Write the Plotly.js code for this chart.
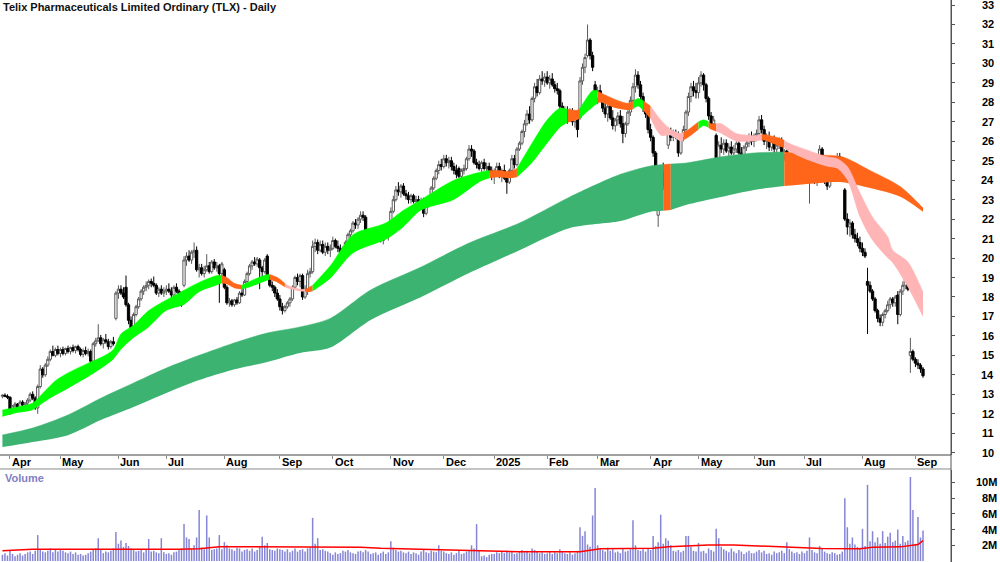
<!DOCTYPE html>
<html><head><meta charset="utf-8">
<script src="https://cdn.plot.ly/plotly-3.0.1.min.js"></script>
<style>html,body{margin:0;padding:0;background:#fff}#chart{width:1000px;height:562px}</style>
</head><body><div id="chart"></div>
<script>
// ---------- DATA (trading-day index 0 = 26 Mar 2024) ----------
const opens = [
12.9,12.95,12.9,12.85,12.1,12.4,12.5,12.3,12.6,12.45,
12.55,12.7,13.0,12.8,12.3,13.4,14.3,14.0,14.5,14.8,
15.2,15.0,15.3,15.1,15.3,15.1,15.35,15.2,15.4,15.25,
15.45,15.3,15.05,15.25,15.1,15.2,14.7,15.6,15.75,15.9,
15.6,15.8,15.7,15.45,15.7,16.9,18.2,18.4,18.2,18.5,
17.6,16.8,16.4,17.1,17.5,17.9,18.3,18.5,18.6,18.8,
18.7,18.6,18.2,18.4,18.2,18.3,18.4,18.3,18.1,18.5,
18.3,18.2,18.6,19.9,20.1,19.9,20.3,20.4,19.4,19.5,
19.2,19.4,19.6,19.3,19.8,19.5,19.6,19.2,19.4,18.5,
17.7,17.8,17.6,17.85,17.7,18.2,18.1,18.8,19.2,19.6,
19.8,19.7,19.9,19.5,19.3,20.1,19.0,18.6,18.5,18.2,
17.9,17.5,17.3,17.5,17.7,17.9,18.5,19.0,18.8,19.1,
18.0,18.4,19.2,19.3,20.6,20.8,20.4,20.7,20.3,20.6,
20.4,20.5,20.9,20.6,20.5,20.3,20.5,20.8,21.2,21.4,
21.8,21.7,22.0,22.2,22.1,21.4,21.1,21.0,21.4,21.2,
21.3,20.9,21.2,21.1,21.4,22.4,23.0,23.5,23.4,23.7,
23.3,23.2,23.0,23.2,22.9,23.0,22.8,23.0,22.3,22.7,
23.1,23.6,24.1,24.5,24.8,24.7,25.1,24.9,25.0,24.7,
24.5,24.6,24.2,24.5,24.6,25.1,25.6,25.5,24.9,24.8,
24.6,24.9,24.6,24.7,24.5,24.2,24.4,24.7,24.2,24.5,
24.1,23.9,24.5,25.1,24.8,25.6,25.9,26.5,26.9,27.4,
27.1,28.2,28.8,28.5,29.2,29.1,29.3,29.0,29.2,28.9,
28.7,28.6,27.8,27.3,27.6,27.2,27.5,27.0,27.3,27.2,
29.1,29.8,30.4,31.2,30.4,28.9,28.2,28.6,28.1,27.7,
27.4,27.8,27.2,26.8,27.1,27.3,26.9,26.4,26.9,27.5,
28.1,28.8,29.4,28.9,28.3,27.7,27.4,26.6,26.2,25.4,
22.2,23.0,24.4,24.0,25.8,26.5,26.2,26.4,26.3,25.4,
26.2,26.6,27.5,28.3,28.8,28.6,28.5,29.0,29.4,28.9,
28.2,27.3,26.9,26.3,24.7,25.8,25.6,25.9,25.5,25.7,
25.4,25.6,25.9,25.4,25.2,25.7,25.9,26.2,26.0,26.3,
26.4,27.1,26.6,26.0,26.2,25.7,26.0,25.6,25.8,26.0,
25.3,25.5,24.8,24.5,24.7,24.4,24.6,24.3,24.5,24.3,
24.1,24.3,24.2,24.0,24.1,25.6,24.6,24.0,23.7,24.1,
24.6,25.1,25.2,25.0,23.5,22.0,21.6,21.8,21.2,21.0,
20.8,20.5,20.3,18.8,18.6,18.3,17.9,17.3,16.9,16.7,
17.1,17.3,17.6,17.9,17.7,18.1,17.1,18.3,18.6,18.9,
15.0,15.2,14.8,14.6,14.5,14.3];
const highs = [
13.0,13.05,13.0,12.9,12.45,12.6,12.55,12.7,12.7,12.6,
12.8,13.1,13.15,12.9,13.5,14.5,14.4,14.6,14.95,15.3,
15.5,15.4,15.5,15.4,15.45,15.4,15.5,15.45,15.55,15.5,
15.55,15.4,15.35,15.45,15.35,15.3,15.7,15.9,16.6,16.05,
15.9,16.1,15.85,15.8,15.95,18.3,18.6,18.6,18.5,19.1,
17.7,17.0,17.2,17.6,18.0,18.4,18.6,18.8,18.9,18.95,
19.05,18.7,18.5,18.6,18.5,18.6,18.7,18.5,18.6,18.7,
18.4,18.25,20.1,20.3,20.4,20.4,20.8,20.6,19.7,19.7,
19.6,20.2,19.8,19.9,19.95,19.8,19.7,19.8,19.5,18.6,
17.95,17.9,17.9,18.0,18.3,18.4,18.9,19.3,19.7,19.9,
20.05,20.05,20.0,19.6,20.0,20.2,19.1,18.8,18.6,18.4,
18.1,17.7,17.6,17.8,18.0,18.6,19.1,19.2,19.2,19.2,
18.6,19.4,19.5,20.9,21.0,20.95,20.9,20.9,20.8,20.8,
20.7,21.1,21.0,20.9,20.7,20.6,20.9,21.3,21.5,21.9,
22.0,22.1,22.4,22.4,22.2,21.5,21.3,21.5,21.6,21.5,
21.4,21.3,21.6,21.4,22.6,23.2,23.7,23.9,23.8,23.85,
23.5,23.4,23.3,23.3,23.2,23.2,23.1,23.1,22.8,23.2,
23.7,24.2,24.6,25.0,25.1,25.3,25.3,25.2,25.2,24.9,
24.8,24.7,24.6,24.8,25.2,25.8,25.8,25.6,25.1,25.0,
25.0,25.1,24.9,24.9,24.7,24.6,24.9,24.9,24.6,24.8,
24.3,24.6,25.3,25.3,25.7,26.0,26.6,27.1,27.6,27.8,
28.3,29.0,29.2,29.4,29.6,29.5,29.6,29.4,29.5,29.1,
29.0,28.7,28.0,27.8,27.8,27.7,27.7,27.4,27.5,29.3,
30.0,30.5,32.0,31.3,30.6,29.1,28.8,28.9,28.3,28.0,
27.9,28.0,27.6,27.2,27.5,27.6,27.3,27.0,27.6,28.3,
29.0,29.7,29.6,29.1,28.5,27.9,27.5,26.9,26.3,25.5,
23.2,24.6,24.9,24.6,26.7,26.7,26.6,26.6,26.5,26.3,
26.8,27.6,28.5,29.0,29.1,29.0,29.3,29.6,29.5,29.0,
28.3,27.5,27.3,26.4,26.0,26.2,26.1,26.1,25.9,26.0,
25.8,26.0,26.1,25.7,25.8,26.1,26.4,26.5,26.4,26.6,
27.3,27.35,26.8,26.4,26.5,26.2,26.3,26.0,26.2,26.2,
25.6,25.6,25.0,24.9,24.9,24.8,24.8,24.7,24.8,24.6,
24.5,24.7,24.5,24.3,25.8,25.7,24.8,24.3,24.2,24.7,
25.2,25.4,25.4,25.1,23.6,22.3,22.0,21.9,21.5,21.3,
21.1,20.8,20.5,19.5,18.8,18.4,18.0,17.4,17.1,17.2,
17.4,17.8,18.0,18.0,18.1,18.3,18.4,18.8,19.0,19.0,
15.9,15.3,14.9,14.8,14.6,14.4];
const lows = [
12.8,12.85,12.75,11.95,12.0,12.25,12.2,12.25,12.35,12.3,
12.45,12.6,12.7,12.2,12.0,13.3,13.85,13.9,14.4,14.7,
14.95,14.9,15.0,14.9,15.0,15.0,15.1,15.05,15.15,15.1,
15.2,14.95,14.9,15.0,14.95,14.4,14.65,15.45,15.7,15.5,
15.35,15.6,15.3,15.35,15.5,16.8,17.9,18.1,17.9,17.5,
16.6,16.05,16.3,17.0,17.4,17.8,18.1,18.3,18.4,18.5,
18.5,18.1,18.0,18.1,18.0,18.1,18.2,17.9,18.0,18.2,
17.9,17.5,18.5,19.6,19.8,19.7,20.0,19.3,19.0,19.1,
19.0,19.3,19.2,19.2,19.4,19.3,17.7,19.0,18.4,17.6,
17.5,17.5,17.5,17.6,17.65,18.0,18.05,18.7,19.1,19.4,
19.6,19.55,18.4,18.9,19.2,18.9,18.5,18.3,18.0,17.8,
17.3,17.1,17.2,17.4,17.5,17.8,18.4,18.6,18.5,17.85,
17.9,18.1,19.0,19.2,20.3,20.2,20.3,20.2,20.1,20.2,
20.05,20.4,20.5,20.3,20.1,20.0,20.4,20.7,21.0,21.3,
21.5,21.5,21.8,21.9,21.3,20.9,20.8,20.9,21.1,20.9,
20.8,20.7,21.0,20.9,21.3,22.3,22.9,23.2,23.1,23.2,
23.0,22.8,22.8,22.8,22.6,22.6,22.5,22.1,22.2,22.6,
23.0,23.5,24.0,24.3,24.5,24.6,24.7,24.6,24.5,24.3,
24.1,24.1,24.1,24.3,24.5,25.0,25.2,24.8,24.6,24.5,
24.4,24.5,24.3,24.4,24.0,23.8,24.2,24.1,23.9,24.0,
23.3,23.8,24.4,24.6,24.7,25.5,25.8,26.2,26.8,26.9,
27.0,28.0,28.3,28.4,28.9,28.8,28.9,28.7,28.8,28.5,
28.4,27.6,27.1,27.0,26.9,27.0,26.8,26.7,26.2,27.1,
28.9,29.5,30.3,30.2,29.6,28.0,27.9,28.0,27.5,27.2,
27.0,27.1,26.6,26.5,26.8,26.7,25.9,26.2,26.8,27.3,
28.0,28.5,28.7,28.0,27.5,27.2,26.4,26.0,25.2,23.6,
21.6,22.8,23.5,23.8,25.6,26.0,26.0,26.1,25.2,25.3,
26.0,26.5,27.3,28.0,28.3,28.2,28.2,28.8,28.6,28.0,
27.1,26.7,26.6,24.3,24.6,25.4,25.3,25.4,25.0,25.3,
25.0,25.4,25.3,25.0,25.1,25.5,25.7,25.8,25.7,26.0,
26.3,26.4,25.8,25.6,25.5,25.5,25.4,25.3,25.6,25.1,
25.0,24.6,24.3,24.2,24.2,24.1,24.2,24.0,24.1,23.9,
22.8,24.0,23.8,23.7,24.0,24.4,23.8,23.5,23.6,24.0,
24.5,24.9,24.9,24.6,21.9,21.2,21.1,21.0,20.8,20.6,
20.3,20.1,20.0,16.1,18.2,17.8,17.2,16.7,16.5,16.5,
16.9,17.2,17.4,17.5,17.5,16.6,17.0,18.1,18.4,18.3,
14.1,14.7,14.4,14.3,14.1,13.85];
const closes = [
12.95,12.9,12.85,12.05,12.4,12.5,12.3,12.6,12.45,12.55,
12.7,13.0,12.8,12.3,13.4,14.3,14.0,14.5,14.8,15.2,
15.0,15.3,15.1,15.3,15.1,15.35,15.2,15.4,15.25,15.45,
15.3,15.05,15.25,15.1,15.2,14.7,15.6,15.75,15.9,15.6,
15.8,15.7,15.45,15.7,15.6,18.2,18.4,18.2,18.0,17.6,
16.8,16.4,17.1,17.5,17.9,18.3,18.5,18.6,18.8,18.7,
18.6,18.2,18.4,18.2,18.3,18.4,18.3,18.1,18.5,18.3,
18.0,17.6,19.9,20.1,19.9,20.3,20.4,19.4,19.5,19.2,
19.4,19.6,19.3,19.8,19.5,19.6,19.2,19.7,18.5,17.7,
17.8,17.6,17.85,17.7,18.2,18.1,18.8,19.2,19.6,19.8,
19.7,19.95,19.5,19.3,19.9,19.0,18.6,18.5,18.2,17.9,
17.5,17.3,17.5,17.7,17.9,18.5,19.0,18.8,19.1,18.0,
18.4,19.2,19.3,20.6,20.8,20.4,20.7,20.3,20.6,20.4,
20.5,20.9,20.6,20.5,20.3,20.5,20.8,21.2,21.4,21.8,
21.7,22.0,22.2,22.1,21.4,21.1,21.0,21.4,21.2,21.3,
20.9,21.2,21.1,21.3,22.4,23.0,23.5,23.4,23.7,23.3,
23.2,23.0,23.2,22.9,23.0,22.8,22.9,22.3,22.7,23.1,
23.6,24.1,24.5,24.8,24.7,25.1,24.9,25.0,24.7,24.5,
24.3,24.2,24.5,24.6,25.1,25.6,25.5,24.9,24.8,24.6,
24.9,24.6,24.7,24.5,24.2,24.4,24.7,24.2,24.5,24.1,
23.9,24.5,25.1,24.8,25.6,25.9,26.5,26.9,27.4,27.1,
28.2,28.8,28.5,29.2,29.1,29.3,29.0,29.2,28.9,28.7,
28.6,27.8,27.3,27.6,27.2,27.5,27.0,27.3,26.6,29.1,
29.8,30.3,31.2,30.4,29.8,28.2,28.6,28.1,27.7,27.4,
27.8,27.2,26.8,27.1,27.3,26.9,26.4,26.9,27.5,28.1,
28.8,29.4,28.9,28.3,27.7,27.4,26.6,26.2,25.4,23.8,
23.0,24.4,23.7,24.3,26.5,26.2,26.4,26.3,25.4,26.2,
26.6,27.5,28.3,28.8,28.6,28.5,29.0,29.4,28.9,28.2,
27.3,26.9,27.1,24.7,25.8,25.6,25.9,25.5,25.7,25.4,
25.6,25.9,25.4,25.2,25.7,25.9,26.2,26.0,26.3,26.4,
27.1,26.6,26.0,26.2,25.7,26.0,25.6,25.8,26.0,25.3,
25.5,24.8,24.5,24.7,24.4,24.6,24.3,24.5,24.3,24.1,
24.3,24.2,24.0,24.1,25.6,24.6,24.0,23.7,24.1,24.6,
25.1,25.2,25.0,24.8,22.0,21.6,21.8,21.2,21.0,20.8,
20.5,20.3,20.1,18.6,18.3,17.9,17.3,16.9,16.7,17.1,
17.3,17.6,17.9,17.7,18.0,17.1,18.3,18.6,18.9,18.4,
15.2,14.8,14.6,14.5,14.3,13.95];
// volume, millions of shares
const volumes = [
0.8,1.0,0.7,1.4,0.9,0.6,0.8,1.0,0.7,0.9,
1.1,1.2,0.9,1.3,3.3,1.5,1.2,1.1,1.3,1.6,
1.1,1.4,1.2,1.4,1.3,1.1,1.0,1.2,0.9,1.1,
0.8,0.9,0.7,0.8,1.0,1.2,1.5,1.6,2.9,1.4,
1.0,1.2,1.1,1.3,1.6,3.7,2.2,2.6,1.8,2.3,
1.9,1.6,1.4,1.2,1.3,1.5,1.1,1.4,2.8,1.2,
1.3,1.1,1.0,2.9,1.1,0.9,1.0,0.8,1.1,1.2,
1.4,1.6,4.7,3.0,2.8,1.6,2.0,3.0,6.5,1.7,
1.5,5.8,3.0,1.4,1.5,1.6,3.3,1.5,2.4,2.0,
1.6,1.5,1.3,1.7,1.6,1.2,1.4,1.5,1.3,1.6,
1.2,1.4,1.9,3.1,2.0,2.3,1.5,1.4,1.3,1.6,
1.5,1.4,1.2,1.5,1.1,1.3,1.6,1.2,1.4,1.5,
1.2,1.6,1.7,5.5,2.2,2.9,1.4,1.5,1.3,1.2,
1.0,0.8,1.1,0.9,1.0,1.3,1.2,1.4,1.1,1.0,
0.9,1.2,1.3,1.1,1.4,1.2,0.9,1.0,1.1,0.8,
1.0,1.2,0.9,1.1,2.5,1.7,1.4,1.2,1.3,1.1,
1.0,1.2,0.9,1.1,1.0,0.8,1.2,1.4,1.1,1.0,
1.3,1.2,1.1,2.0,1.3,1.2,1.0,0.9,1.1,0.8,
1.0,1.3,0.9,1.0,1.2,1.4,2.0,1.6,4.7,1.3,
0.6,0.7,0.5,0.8,0.9,0.9,1.1,1.0,1.2,1.0,
1.3,1.1,1.2,0.9,1.0,1.2,1.4,1.1,1.3,1.0,
1.6,1.4,1.2,1.0,1.1,0.9,1.0,1.2,0.9,1.1,
1.0,1.5,1.2,1.0,0.9,1.1,0.8,1.0,1.3,4.3,
3.2,3.8,2.1,1.8,5.8,9.3,2.0,1.6,1.4,1.2,
1.7,1.3,1.5,1.1,1.2,1.0,1.6,1.2,1.3,1.5,
5.2,2.0,1.4,1.3,1.5,1.2,1.6,1.4,3.2,1.9,
2.4,5.9,2.2,2.9,2.6,2.0,1.3,1.2,1.4,1.1,
1.3,3.2,3.2,1.8,1.3,1.2,2.3,1.2,1.3,1.0,
1.6,1.4,1.2,4.1,2.9,1.8,1.5,1.3,1.1,1.6,
1.2,1.0,1.4,1.2,0.9,1.1,1.3,1.0,1.0,1.2,
1.4,1.1,1.3,0.9,1.0,0.8,1.2,1.0,1.1,1.3,
1.0,2.4,1.5,1.2,1.0,1.1,0.9,1.2,1.0,1.3,
3.0,1.4,1.1,1.0,1.9,1.6,1.2,1.0,0.9,1.1,
1.0,0.8,0.9,1.2,8.0,4.3,2.2,3.0,2.1,1.8,
1.7,4.1,1.9,9.7,2.5,3.8,2.4,3.0,2.2,3.8,
2.3,3.1,3.6,2.4,2.6,4.0,2.2,3.2,2.4,2.6,
10.7,6.5,2.2,5.6,3.0,3.9];
// volume moving average (read at these trading-day indices), millions
const volAvgIdx = [0,12,70,78,86,131,142,150,171,197,205,229,237,258,264,271,280,290,298,316,325,340,345,356,363,365];
const volAvgVal = [1.32,1.49,1.49,1.57,1.83,1.83,1.74,1.62,1.49,1.32,1.19,1.19,1.57,1.62,1.83,1.9,2.04,2.04,1.95,1.74,1.6,1.57,1.74,1.8,2.1,2.6];
// short-term trend ribbon (edges read at these indices; state of the stretch that follows)
const shortIdx = [0,6,12,16,21,26,34,40,44,47,52,58,65,72,78,85,87,89,92,95,98,105,106,109,112,113,118,120,121,123,130,139,152,159,166,179,189,193,197,201,204,210,216,221,224,228,229,230,234,236,237,242,248,250,252,254,256,257,261,265,269,270,272,275,276,278,280,281,283,285,291,298,301,302,307,310,311,319,327,331,335,340,345,351,353,359,365];
const shortTop = [12.2,12.35,12.55,13.05,13.7,14.1,14.6,14.95,15.3,16.1,16.55,17.3,17.85,18.35,18.75,19.1,19.1,19.0,18.7,18.6,18.8,19.15,19.15,19.0,18.7,18.6,18.4,18.4,18.45,18.6,19.6,21.2,21.8,22.45,23.0,24.0,24.4,24.5,24.5,24.45,24.6,25.9,27.1,27.7,27.65,27.6,27.7,27.9,28.6,28.6,28.5,28.2,27.95,28.05,28.2,28.1,27.9,27.8,27.1,26.6,26.4,26.45,26.6,26.9,27.0,27.1,27.0,26.9,26.9,26.9,26.4,26.3,26.35,26.35,26.2,26.05,25.95,25.55,25.2,25.1,24.7,23.35,22.1,21.1,20.4,19.8,18.25];
const shortBot = [11.85,12.05,12.2,12.55,12.95,13.3,13.9,14.4,14.8,15.3,15.9,16.45,17.3,17.6,18.25,18.6,18.7,18.65,18.45,18.4,18.5,18.85,18.88,18.75,18.5,18.45,18.3,18.28,18.25,18.3,18.95,20.25,20.95,21.6,22.45,23.0,23.9,24.1,24.15,24.1,24.15,24.9,25.9,26.7,26.95,27.1,27.15,27.3,27.75,27.95,28.0,27.75,27.6,27.65,27.8,27.6,27.3,27.15,26.3,26.3,26.0,26.05,26.2,26.5,26.6,26.8,26.7,26.6,26.5,26.4,26.0,26.0,26.05,26.05,25.8,25.65,25.55,25.05,24.7,24.6,24.0,22.1,20.9,20.0,19.75,18.5,16.97];
const shortState = ['up','up','up','up','up','up','up','up','up','up','up','up','up','up','up','up','down','down','down','up','up','up','down','down','weak','weak','weak','down','down','up','up','up','up','up','up','up','up','down','down','down','up','up','up','up','down','down','up','up','up','down','down','down','down','up','up','down','down','weak','weak','weak','weak','down','down','down','up','up','down','down','weak','weak','weak','weak','down','down','down','weak','weak','weak','weak','weak','weak','weak','weak','weak','weak','weak','weak'];
// long-term trend ribbon
const longIdx = [0,12,26,39,52,65,78,91,105,118,130,146,166,185,205,225,245,257,262,265,271,285,298,310,324,333,344,356,365];
const longTop = [10.91,11.27,11.94,12.8,13.58,14.35,15.0,15.6,16.15,16.46,16.9,18.36,19.54,20.77,21.8,23.14,24.3,24.73,24.8,24.83,24.88,25.2,25.4,25.45,25.3,25.2,24.5,23.67,22.57];
const longBot = [10.29,10.55,10.9,11.68,12.35,13.07,13.73,14.25,14.66,15.12,15.4,16.82,18.0,19.23,20.4,21.54,21.9,22.38,22.43,22.47,22.73,23.14,23.5,23.7,23.86,23.9,23.6,23.15,22.38];
const longState = ['up','up','up','up','up','up','up','up','up','up','up','up','up','up','up','up','up','up','down','up','up','up','up','down','down','down','down','down','down'];
// axes
const priceTicks = [10,11,12,13,14,15,16,17,18,19,20,21,22,23,24,25,26,27,28,29,30,31,32,33];
const volTicks = [2,4,6,8,10];
const volTickText = ['2M','4M','6M','8M','10M'];
const monthIdx = [3,23,46,65,88,110,131,154,175,195,216,236,257,276,298,318,341,362];
const monthText = ['Apr','May','Jun','Jul','Aug','Sep','Oct','Nov','Dec','2025','Feb','Mar','Apr','May','Jun','Jul','Aug','Sep'];
const chartTitle = 'Telix Pharmaceuticals Limited Ordinary (TLX) - Daily';

// ---------- DRAWING ----------
const FONT = 'Liberation Sans, Arial, sans-serif';
const idx = opens.map((_, i) => i);
const shortColors = {up:'#00ff00', down:'#ff661a', weak:'#ffb5b5'};
const longColors = {up:'#3cb371', down:'#ff661a'};

function ribbon(ix, top, bot, state, colors) {
  const out = [];
  const n = ix.length;
  let s = 0;
  for (let k = 1; k < n; k++) {
    if (k === n - 1 || state[k] !== state[s]) {
      const xs = ix.slice(s, k + 1);
      const c = colors[state[s]];
      out.push({type:'scatter', mode:'lines', x:xs, y:bot.slice(s, k + 1),
        line:{width:0, shape:'spline', smoothing:0.8, color:c}, hoverinfo:'skip', xaxis:'x', yaxis:'y'});
      out.push({type:'scatter', mode:'lines', x:xs, y:top.slice(s, k + 1), fill:'tonexty', fillcolor:c,
        line:{width:0.5, shape:'spline', smoothing:0.8, color:c}, hoverinfo:'skip', xaxis:'x', yaxis:'y'});
      s = k;
    }
  }
  return out;
}

const traces = [];
ribbon(longIdx, longTop, longBot, longState, longColors).forEach(t => traces.push(t));
ribbon(shortIdx, shortTop, shortBot, shortState, shortColors).forEach(t => traces.push(t));
traces.push({type:'candlestick', x:idx, open:opens, high:highs, low:lows, close:closes,
  increasing:{line:{color:'#5a5a5a', width:1}, fillcolor:'#ffffff'},
  decreasing:{line:{color:'#000000', width:1}, fillcolor:'#000000'},
  whiskerwidth:0, hoverinfo:'skip', xaxis:'x', yaxis:'y'});
traces.push({type:'bar', x:idx, y:volumes, marker:{color:'#8686d6', line:{width:0}},
  hoverinfo:'skip', xaxis:'x2', yaxis:'y2'});
traces.push({type:'scatter', mode:'lines', x:volAvgIdx, y:volAvgVal,
  line:{color:'#ff0000', width:1.5}, hoverinfo:'skip', xaxis:'x2', yaxis:'y2'});

const xr = [-0.96, 376.1];
const LBL = {family:FONT, size:11, color:'#000', weight:'bold'};
const annotations = [];
annotations.push({text:chartTitle, xref:'paper', yref:'paper', x:0, y:1, xanchor:'left', yanchor:'top',
  xshift:1, yshift:1, showarrow:false, font:{family:FONT, size:11, color:'#111', weight:'bold'}});
annotations.push({text:'Volume', xref:'paper', yref:'paper', x:0, y:0.1637, xanchor:'left', yanchor:'top',
  xshift:3, yshift:0, showarrow:false, font:{family:FONT, size:11, color:'#8080c4', weight:'bold'}});
monthIdx.forEach((m, k) => annotations.push({text:monthText[k], xref:'x', yref:'paper', x:m, y:0.1775,
  xanchor:'left', yanchor:'middle', xshift:0, showarrow:false, font:LBL}));
priceTicks.forEach(v => annotations.push({text:String(v), xref:'paper', yref:'y', x:996/951, y:v,
  xanchor:'right', yanchor:'middle', showarrow:false, font:LBL}));
volTicks.forEach((v, k) => annotations.push({text:volTickText[k], xref:'paper', yref:'y2', x:999/951, y:v,
  xanchor:'right', yanchor:'middle', showarrow:false, font:LBL}));

const layout = {
  width:1000, height:562, margin:{l:0, r:49, t:0, b:0},
  paper_bgcolor:'#ffffff', plot_bgcolor:'#ffffff', showlegend:false, bargap:0.4,
  boxmode:'overlay', boxgap:0.1, boxgroupgap:0,
  xaxis:{domain:[0,1], range:xr, anchor:'y', tickvals:monthIdx, ticks:'outside', ticklen:3,
    tickcolor:'#8a8a8a', showticklabels:false, showgrid:false, zeroline:false, showline:false,
    rangeslider:{visible:false}, fixedrange:true},
  yaxis:{domain:[0.1904,1], range:[9.882,33.257], side:'right', anchor:'x', tickvals:priceTicks,
    ticks:'outside', ticklen:3, tickcolor:'#555', showline:true, linecolor:'#555', linewidth:1,
    showgrid:false, zeroline:false, showticklabels:false},
  xaxis2:{domain:[0,1], range:xr, anchor:'y2', showticklabels:false, ticks:'', showgrid:false,
    zeroline:false, showline:false},
  yaxis2:{domain:[0,0.1637], range:[-0.127,11.59], side:'right', anchor:'x2', tickvals:volTicks,
    ticks:'outside', ticklen:3, tickcolor:'#555', showticklabels:false, showline:true,
    linecolor:'#555', showgrid:false, zeroline:false},
  shapes:[
    {type:'line', xref:'paper', yref:'paper', x0:0, x1:1, y0:0.1904, y1:0.1904, line:{color:'#a0a0a0', width:2}},
    {type:'line', xref:'paper', yref:'paper', x0:0, x1:1, y0:0.1655, y1:0.1655, line:{color:'#8a8a8a', width:1}},
    {type:'line', xref:'paper', yref:'paper', x0:1, x1:1, y0:0, y1:1, line:{color:'#555', width:1}}
  ],
  annotations:annotations
};
Plotly.newPlot('chart', traces, layout, {staticPlot:true, displayModeBar:false});
</script>
</body></html>
